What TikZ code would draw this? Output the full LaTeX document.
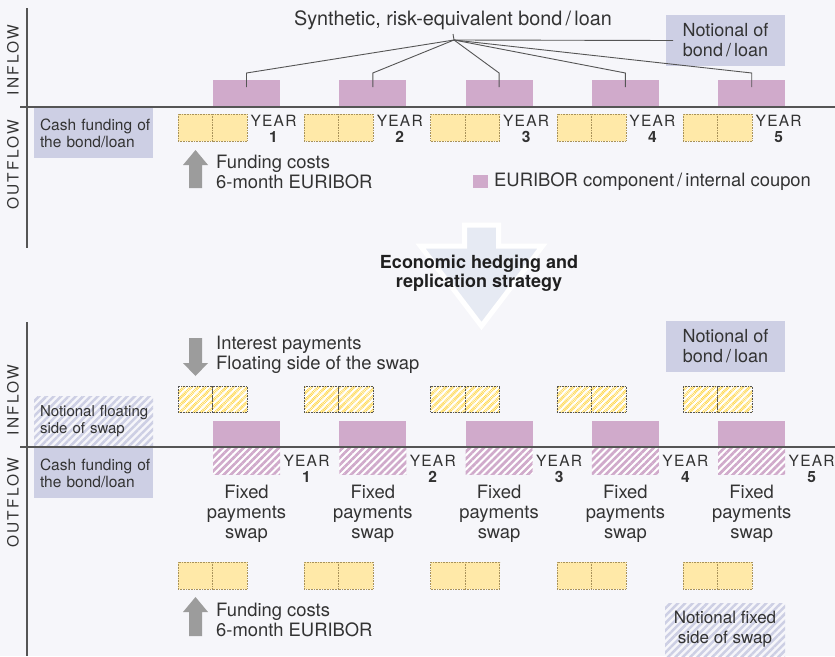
\documentclass[tikz,border=0pt]{standalone}
\usepackage{fontspec}
\setmainfont{TeX Gyre Heros}
\newfontfamily\yearfont[LetterSpace=8]{TeX Gyre Heros}
\newfontfamily\axisfont[LetterSpace=14]{TeX Gyre Heros}
\usetikzlibrary{patterns.meta}
\definecolor{bgc}{HTML}{F6F6FA}
\definecolor{purp}{HTML}{D0AACB}
\definecolor{yel}{HTML}{FFE9A8}
\definecolor{ybord}{HTML}{A8925A}
\definecolor{yhatch}{HTML}{FFD84F}
\definecolor{lav}{HTML}{CDCFE4}
\definecolor{axisc}{HTML}{555555}
\definecolor{txtc}{HTML}{333333}
\definecolor{arrg}{HTML}{9C9C9C}
\definecolor{bigarr}{HTML}{E6EAF3}
\begin{document}
\begin{tikzpicture}[x=1pt,y=-1pt,
  pbar/.style={fill=purp, minimum width=67, minimum height=27, inner sep=0, outer sep=0},
  phbar/.style={preaction={fill=white}, pattern={Lines[angle=45,distance=5pt,line width=2.7pt]}, pattern color=purp, minimum width=67, minimum height=27, inner sep=0, outer sep=0},
  ybox/.style={fill=yel, draw=ybord, dash pattern=on 0.8pt off 0.8pt, line width=0.7pt, minimum width=34.5, minimum height=27, inner sep=0, outer sep=0},
  yhbox/.style={preaction={fill=white}, pattern={Lines[angle=45,distance=5pt,line width=2.9pt]}, pattern color=yhatch, draw=axisc, dash pattern=on 0.8pt off 0.8pt, line width=0.7pt, minimum width=34.5, minimum height=26, inner sep=0, outer sep=0},
  lavbox/.style={fill=lav, inner sep=0, outer sep=0, text=txtc},
  lavhbox/.style={pattern={Lines[angle=45,distance=5.2pt,line width=2.5pt]}, pattern color=lav, inner sep=0, outer sep=0, text=txtc},
  leftbox/.style={minimum width=119, minimum height=50, text width=107, inner xsep=6, align=left, anchor=north west},
  txt/.style={text=txtc, inner sep=0, font=\fontsize{18.4}{20}\selectfont},
  yearlab/.style={text=txtc, inner sep=0, align=center, font=\fontsize{15.5}{16}\selectfont},
  axislab/.style={text=txtc, inner sep=0, rotate=90, font=\axisfont\fontsize{15.5}{16}\selectfont},
  axisline/.style={draw=axisc, line width=1.6pt},
  conn/.style={draw=axisc, line width=0.9pt},
  garrow/.style={fill=arrg}
]
\fill[bgc] (0,0) rectangle (835,656);
\useasboundingbox (0,0) rectangle (835,656);

% ---------- big arrow ----------
\def\cx{481.5}
\draw[fill=bigarr, draw=white, line width=5pt, line join=miter]
  (\cx-17,225) -- (\cx+17,225) -- (\cx+17,246) -- (\cx+61,246) -- (\cx,326) -- (\cx-61,246) -- (\cx-17,246) -- cycle;
\node[text=black!88, inner sep=0, align=center, font=\bfseries\fontsize{18}{19}\selectfont] (hedge) at (479,273.5) {Economic hedging and\\replication strategy};

% ---------- TOP PANEL ----------
\node[txt, font=\fontsize{19.8}{21}\selectfont] (title) at (453,20) {Synthetic, risk-equivalent bond\,/\,loan};
\coordinate (hub) at (454,40);
\node[lavbox, minimum width=119, minimum height=51, align=center, font=\fontsize{18}{20}\selectfont, anchor=north west] (notop) at (666,15) {Notional of\\bond\,/\,loan};
\draw[conn] (title.south |- 0,34) -- (hub) -- ([xshift=7pt]notop.west);

\node[lavbox, leftbox, font=\fontsize{15.5}{17}\selectfont] (cashtop) at (34,108) {\mbox{Cash funding of}\\\mbox{the bond/loan}};

\foreach \k in {0,...,4}{
  \pgfmathsetmacro{\dx}{126.3*\k}
  \pgfmathtruncatemacro{\n}{\k+1}
  \node[pbar, anchor=north west] (tb\n) at (213+\dx,80) {};
  \node[ybox, anchor=north west] (tya\n) at (178+\dx,114) {};
  \node[ybox, anchor=north west] (tyb\n) at (212.5+\dx,114) {};
  \node[yearlab] (ty\n) at (273.5+\dx,129) {{\yearfont YEAR}\\\textbf{\n}};
  \coordinate (tk\n) at (246.5+\dx,73);
  \draw[conn] (hub) -- (tk\n) -- ([yshift=-7pt]tb\n.north);
}

\fill[garrow] (195.5,150) -- (208,165) -- (202,165) -- (202,188) -- (189,188) -- (189,165) -- (183,165) -- cycle;
\node[txt, align=left, anchor=west] (fundtop) at (216,172) {Funding costs\\6-month EURIBOR};

\node[fill=purp, minimum width=15, minimum height=13, inner sep=0, anchor=north west] (legsq) at (473,175) {};
\node[txt, anchor=west] (legtxt) at (494,182) {EURIBOR component\,/\,internal coupon};

\node[axislab] (inflowtop) at (13,60) {INFLOW};
\node[axislab] (outflowtop) at (13,165) {OUTFLOW};
\draw[axisline] (27,8) -- (27,248);
\draw[axisline] (20,107) -- (835,107);

% ---------- BOTTOM PANEL ----------
\node[lavbox, minimum width=119, minimum height=51, align=center, font=\fontsize{18}{20}\selectfont, anchor=north west] (notbot) at (666,321) {Notional of\\bond\,/\,loan};

\fill[garrow] (189,338) -- (202,338) -- (202,363) -- (208,363) -- (195.5,376) -- (183,363) -- (189,363) -- cycle;
\node[txt, align=left, anchor=west] (intpay) at (216,354.5) {Interest payments\\Floating side of the swap};

\node[lavhbox, leftbox, minimum height=51, font=\fontsize{15}{17}\selectfont] (notfloat) at (34,396) {\mbox{Notional floating}\\\mbox{side of swap}};
\node[lavbox, leftbox, font=\fontsize{15.5}{17}\selectfont] (cashbot) at (34,448) {\mbox{Cash funding of}\\\mbox{the bond/loan}};

\foreach \k in {0,...,4}{
  \pgfmathsetmacro{\dx}{126.3*\k}
  \pgfmathtruncatemacro{\n}{\k+1}
  \node[yhbox, anchor=north west] (bya\n) at (178+\dx,386) {};
  \node[yhbox, anchor=north west] (byb\n) at (212.5+\dx,386) {};
  \node[pbar, minimum height=26, anchor=north west] (bb\n) at (213+\dx,421) {};
  \node[phbar, anchor=north west] (bh\n) at (213+\dx,447) {};
  \node[yearlab] (by\n) at (306.5+\dx,469) {{\yearfont YEAR}\\\textbf{\n}};
  \node[txt, align=center] (bf\n) at (246.5+\dx,514) {Fixed\\payments\\swap};
  \node[ybox, anchor=north west] (bza\n) at (178+\dx,562) {};
  \node[ybox, anchor=north west] (bzb\n) at (212.5+\dx,562) {};
}

\fill[garrow] (195.5,597) -- (208,612) -- (202,612) -- (202,636) -- (189,636) -- (189,612) -- (183,612) -- cycle;
\node[txt, align=left, anchor=west] (fundbot) at (216,619.5) {Funding costs\\6-month EURIBOR};

\node[lavhbox, minimum width=120, minimum height=53, align=center, font=\fontsize{17}{20}\selectfont, anchor=north west] (notfixed) at (665,603) {Notional fixed\\side of swap};

\node[axislab] (inflowbot) at (13,400) {INFLOW};
\node[axislab] (outflowbot) at (13,503) {OUTFLOW};
\draw[axisline] (27,322) -- (27,656);
\draw[axisline] (20,447) -- (835,447);
\end{tikzpicture}
\end{document}
